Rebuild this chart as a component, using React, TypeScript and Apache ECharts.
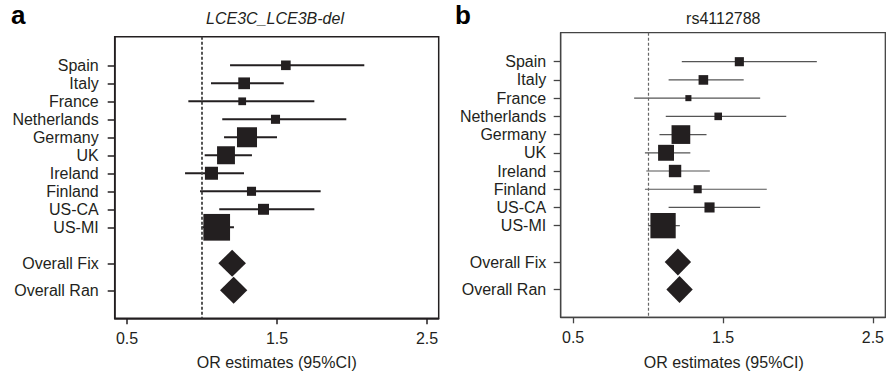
import React, { useEffect, useRef } from "react";
import * as echarts from "echarts";

// ---- data ----
const studies = ["Spain", "Italy", "France", "Netherlands", "Germany", "UK", "Ireland", "Finland", "US-CA", "US-MI"];
const summaries = ["Overall Fix", "Overall Ran"];

// Panel a: LCE3C_LCE3B-del
const orA = [1.559, 1.281, 1.268, 1.49, 1.3, 1.16, 1.063, 1.33, 1.41, 1.098];
const lowA = [1.187, 1.06, 0.909, 1.135, 1.147, 1.018, 0.887, 0.987, 1.115, 0.995];
const highA = [2.082, 1.545, 1.749, 1.962, 1.5, 1.333, 1.28, 1.791, 1.749, 1.213];
const weightA = [0.36, 0.44, 0.29, 0.34, 0.75, 0.67, 0.49, 0.34, 0.41, 1.0];
const sumOrA = [1.201, 1.211];
const sumLowA = [1.109, 1.12];
const sumHighA = [1.293, 1.302];

// Panel b: rs4112788
const orB = [1.609, 1.369, 1.269, 1.468, 1.219, 1.12, 1.18, 1.331, 1.41, 1.1];
const lowB = [1.225, 1.137, 0.907, 1.118, 1.076, 0.979, 0.988, 0.979, 1.137, 1.0];
const highB = [2.126, 1.638, 1.748, 1.922, 1.39, 1.282, 1.412, 1.792, 1.748, 1.212];
const weightB = [0.36, 0.38, 0.24, 0.3, 0.74, 0.63, 0.49, 0.32, 0.4, 1.0];
const sumOrB = [1.199, 1.21];
const sumLowB = [1.111, 1.122];
const sumHighB = [1.287, 1.298];

const xTicks = [0.5, 1.5, 2.5];
const titleA = "LCE3C_LCE3B-del";
const titleB = "rs4112788";
const xName = "OR estimates (95%CI)";

// ---- layout ----
const labels = [...studies, ...summaries];
const rowPos = labels.map((_, i) => (i < studies.length ? i + 1 : studies.length + 2 + (i - studies.length) * 1.5));
const FONT = "'Liberation Sans', Arial, Helvetica, sans-serif";
const TXT = "#231f20";

function labelFor(v: number) {
  const i = rowPos.findIndex((p) => Math.abs(p - v) < 1e-6);
  return i >= 0 ? labels[i] : "";
}

function buildPanel(
  idx: number,
  or: number[], low: number[], high: number[], weight: number[],
  sOr: number[], sLow: number[], sHigh: number[],
  cfg: any
) {
  const grid = {
    left: cfg.left, top: cfg.top, width: cfg.width, height: cfg.height,
    show: true, borderColor: cfg.boxColor, borderWidth: cfg.boxWidth, backgroundColor: "transparent",
  };
  const xAxis = {
    type: "value", gridIndex: idx, min: cfg.xmin, max: cfg.xmax,
    splitLine: { show: false },
    axisLine: { show: true, onZero: false, lineStyle: { color: cfg.boxColor, width: cfg.boxWidth } },
    axisTick: { show: true, length: 6, customValues: xTicks, lineStyle: { color: cfg.boxColor, width: cfg.boxWidth } },
    axisLabel: { customValues: xTicks, margin: 12, fontSize: 16, color: TXT, fontFamily: FONT, formatter: (v: number) => v.toFixed(1) },
  };
  const yAxis = {
    type: "value", gridIndex: idx, inverse: true, min: cfg.ymin, max: cfg.ymax,
    splitLine: { show: false },
    axisLine: { show: true, onZero: false, lineStyle: { color: cfg.boxColor, width: cfg.boxWidth } },
    axisTick: { show: true, length: 7, customValues: rowPos, lineStyle: { color: cfg.boxColor, width: cfg.boxWidth } },
    axisLabel: { customValues: rowPos, margin: cfg.labelMargin, fontSize: 16, color: TXT, fontFamily: FONT, formatter: (v: number) => labelFor(v) },
  };
  const studyData = studies.map((_, i) => [or[i], low[i], high[i], rowPos[i], weight[i]]);
  const sumData = summaries.map((_, j) => [sOr[j], sLow[j], sHigh[j], rowPos[studies.length + j]]);
  const series = [
    {
      type: "custom", xAxisIndex: idx, yAxisIndex: idx,
      encode: { x: [0, 1, 2], y: 3 },
      data: studyData,
      renderItem: (params: any, api: any) => {
        const y = api.value(3);
        const p0 = api.coord([api.value(1), y]);
        const p1 = api.coord([api.value(2), y]);
        const c = api.coord([api.value(0), y]);
        const s = api.value(4) * cfg.boxMax;
        return {
          type: "group",
          children: [
            { type: "line", shape: { x1: p0[0], y1: p0[1], x2: p1[0], y2: p1[1] }, style: { stroke: cfg.lineColor, lineWidth: cfg.lineWidth } },
            { type: "rect", shape: { x: c[0] - s / 2, y: c[1] - s / 2, width: s, height: s }, style: { fill: "#231f20" } },
          ],
        };
      },
      markLine: {
        silent: true, symbol: "none", label: { show: false },
        lineStyle: { color: cfg.refColor, width: cfg.refWidth, type: [3, 2] },
        data: [{ xAxis: 1 }],
      },
      z: 3,
    },
    {
      type: "custom", xAxisIndex: idx, yAxisIndex: idx,
      encode: { x: [0, 1, 2], y: 3 },
      data: sumData,
      renderItem: (params: any, api: any) => {
        const y = api.value(3);
        const l = api.coord([api.value(1), y]);
        const r = api.coord([api.value(2), y]);
        const c = api.coord([api.value(0), y]);
        const h = cfg.diamondH / 2;
        return {
          type: "polygon",
          shape: { points: [[l[0], l[1]], [c[0], c[1] - h], [r[0], r[1]], [c[0], c[1] + h]] },
          style: { fill: "#231f20" },
        };
      },
      z: 3,
    },
  ];
  return { grid, xAxis, yAxis, series };
}

export default function App() {
  const ref = useRef<HTMLDivElement>(null);
  useEffect(() => {
    if (!ref.current) return;
    const chart = echarts.init(ref.current, undefined, { renderer: "svg" });
    const a = buildPanel(0, orA, lowA, highA, weightA, sumOrA, sumLowA, sumHighA, {
      left: 114.7, top: 36.7, width: 324, height: 281.6,
      xmin: 0.418, xmax: 2.578, ymin: -0.589, ymax: 15.056,
      boxColor: "#231f20", boxWidth: 1.5, lineColor: "#231f20", lineWidth: 2,
      refColor: "#444", refWidth: 1.8, boxMax: 26.7, diamondH: 27, labelMargin: 16,
    });
    const b = buildPanel(1, orB, lowB, highB, weightB, sumOrB, sumLowB, sumHighB, {
      left: 560.7, top: 32.7, width: 328.6, height: 284.6,
      xmin: 0.417, xmax: 2.583, ymin: -0.592, ymax: 15.03,
      boxColor: "#444", boxWidth: 1.3, lineColor: "#555", lineWidth: 1.2,
      refColor: "#666", refWidth: 1.2, boxMax: 25.3, diamondH: 27, labelMargin: 14.5,
    });
    chart.setOption({
      animation: false,
      backgroundColor: "#fff",
      grid: [a.grid, b.grid],
      xAxis: [a.xAxis, b.xAxis],
      yAxis: [a.yAxis, b.yAxis],
      series: [...a.series, ...b.series],
      graphic: [
        { type: "text", left: 11, top: 2, style: { text: "a", fontSize: 26, fontWeight: "bold", fontFamily: FONT, fill: "#000" } },
        { type: "text", left: 455, top: 2, style: { text: "b", fontSize: 26, fontWeight: "bold", fontFamily: FONT, fill: "#000" } },
        { type: "text", x: 275, y: 18, style: { text: titleA, fontSize: 16, fontStyle: "italic", fontFamily: FONT, fill: TXT, align: "center", verticalAlign: "middle" } },
        { type: "text", x: 723.3, y: 18, style: { text: titleB, fontSize: 16, fontFamily: FONT, fill: TXT, align: "center", verticalAlign: "middle" } },
        { type: "text", x: 276.7, y: 362, style: { text: xName, fontSize: 16, fontFamily: FONT, fill: TXT, align: "center", verticalAlign: "middle" } },
        { type: "text", x: 723.7, y: 362, style: { text: xName, fontSize: 16, fontFamily: FONT, fill: TXT, align: "center", verticalAlign: "middle" } },
      ],
    });
    return () => chart.dispose();
  }, []);
  return <div ref={ref} style={{ position: "fixed", left: 0, top: 0, width: 887, height: 373 }} />;
}
